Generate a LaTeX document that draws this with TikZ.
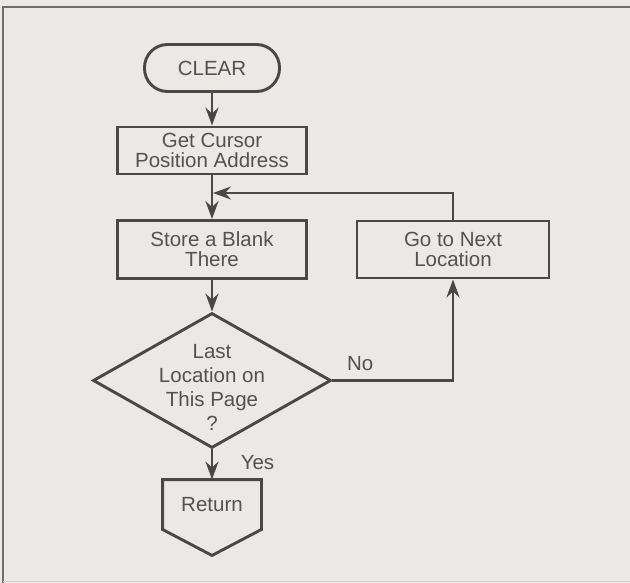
\documentclass[tikz,border=0pt]{standalone}
\usepackage{fontspec}
\setmainfont{Liberation Sans}
\usepackage{xcolor}
\usetikzlibrary{positioning, arrows.meta, shapes.geometric}

\definecolor{paper}{RGB}{234,233,229}
\definecolor{ink}{RGB}{72,72,72}
\definecolor{inktext}{RGB}{82,82,82}

\tikzset{
  box/.style={draw=ink, rectangle, inner sep=0pt, text=inktext, align=center,
    font=\fontsize{20.5}{20}\selectfont},
  terminal/.style={box, rounded corners=23pt},
  decision/.style={draw=ink, diamond, inner sep=0pt, minimum width=238pt, minimum height=135pt},
  txt/.style={text=inktext, align=center, font=\fontsize{20.5}{24}\selectfont},
}

\begin{document}
\begin{tikzpicture}[x=1pt, y=-1pt, node distance=80pt, on grid, line width=2.9pt,
    >={Stealth[length=18pt, width=13pt, inset=6pt]}]

  % paper and frame
  \fill[paper] (0,0) rectangle (630,583);
  \useasboundingbox (0,0) rectangle (630,583);
  \draw[ink!80, line width=2pt] (3,583) -- (3,7) -- (630,7);
  \draw[ink!25, line width=1pt] (3,581.5) -- (630,581.5);

  \node[terminal, minimum width=135pt, minimum height=47pt] (clear) at (212,68) {CLEAR};
  \node[box, minimum width=189pt, minimum height=47pt] (getpos) [below=82.5pt of clear] {Get Cursor\\Position Address};
  \node[box, minimum width=189pt, minimum height=58pt] (store) [below=99pt of getpos] {Store a Blank\\There};
  \node[decision] (last) [below=131pt of store] {};
  \node[txt] (lastq) [below=7pt of last] {Last\\Location on\\This Page\\?};
  \node[txt, minimum width=96pt, minimum height=47pt, inner sep=0pt] (ret) [below=124pt of last] {Return};
  \node[box, minimum width=192pt, minimum height=57pt] (next) [right=241pt of store] {Go to Next\\Location};
  \coordinate[below=42.5pt of getpos] (merge);

  % return connector shape
  \draw[ink, line join=miter] (ret.north west) -- (ret.north east) -- (ret.south east)
    -- ([yshift=-26pt]ret.south) -- (ret.south west) -- cycle;

  \path[->, draw=ink]
    (clear) edge (getpos)
    (getpos) edge (store)
    (store) edge (last)
    (last) edge node[txt, right=24pt, pos=0.42] {Yes} (ret);

  \draw[->, ink] (last.east) -| node[txt, pos=0.115, above=5pt] {No} (next.south);
  \draw[->, ink, shorten >=1pt] (next.north) |- (merge);

\end{tikzpicture}
\end{document}
